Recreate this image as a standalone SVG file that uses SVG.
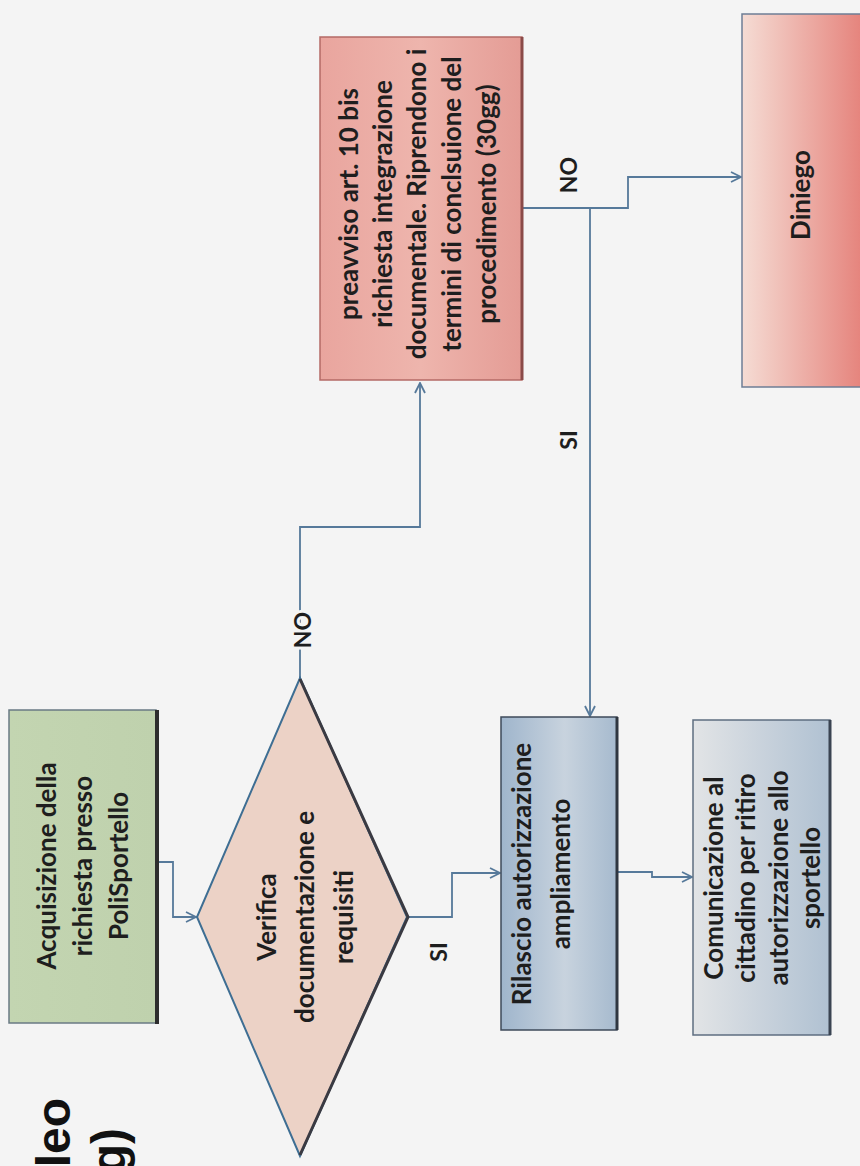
<svg xmlns="http://www.w3.org/2000/svg" width="860" height="1166" viewBox="0 0 860 1166">
<defs>
<style>
.t{font-family:Lato,"Liberation Sans",sans-serif;font-weight:700;font-size:26px;fill:#1e1e1e;text-anchor:middle;dominant-baseline:central}
.lb{font-family:Lato,"Liberation Sans",sans-serif;font-weight:700;font-size:23px;fill:#1e1e1e;text-anchor:middle;dominant-baseline:central;stroke:#f4f4f4;stroke-width:6px;paint-order:stroke}
.ti{font-family:"Liberation Sans",Arial,sans-serif;font-weight:700;font-size:48px;fill:#111;text-anchor:end}
.c{fill:none;stroke:#56799a;stroke-width:1.8;marker-end:url(#ah)}
</style>
<marker id="ah" viewBox="0 0 12 12" refX="11" refY="6" markerWidth="12" markerHeight="12" markerUnits="userSpaceOnUse" orient="auto">
<path d="M1,1 L11,6 L1,11" fill="none" stroke="#56799a" stroke-width="1.8"/>
</marker>
<linearGradient id="gGreen" x1="0" y1="0" x2="1" y2="0">
<stop offset="0" stop-color="#c3d5b1"/><stop offset="1" stop-color="#bfd1ad"/>
</linearGradient>
<linearGradient id="gPre" x1="0" y1="0" x2="1" y2="0">
<stop offset="0" stop-color="#e9a59e"/><stop offset="0.5" stop-color="#eeb5ad"/><stop offset="1" stop-color="#e49c95"/>
</linearGradient>
<linearGradient id="gDin" x1="0" y1="0" x2="1" y2="0">
<stop offset="0" stop-color="#f5dcd4"/><stop offset="1" stop-color="#e47c75"/>
</linearGradient>
<linearGradient id="gRil" x1="0" y1="0" x2="1" y2="0">
<stop offset="0" stop-color="#9fb5cc"/><stop offset="0.55" stop-color="#c8d3de"/><stop offset="1" stop-color="#a6bace"/>
</linearGradient>
<linearGradient id="gCom" x1="0" y1="0" x2="1" y2="0">
<stop offset="0" stop-color="#e2e4e6"/><stop offset="1" stop-color="#b0c1d2"/>
</linearGradient>
</defs>
<rect x="0" y="0" width="860" height="1166" fill="#f4f4f4"/>

<g id="title">
<text class="ti" transform="translate(70,1098) rotate(-90)">leo</text>
<text class="ti" transform="translate(125,1128) rotate(-90)">g)</text>
</g>

<g id="connectors">
<path class="c" d="M158 862 H173 V917 H196"/>
<path class="c" d="M300 678 V527 H420 V383"/>
<path class="c" d="M522 208 H628 V177 H741"/>
<path class="c" d="M590 208 V716"/>
<path class="c" d="M407 917 H452 V873 H500"/>
<path class="c" d="M617 872 H652 V877 H692"/>
</g>

<g id="labels">
<text class="lb" transform="translate(302,630) rotate(-90)">NO</text>
<text class="lb" transform="translate(568,175) rotate(-90)">NO</text>
<text class="lb" transform="translate(568,440) rotate(-90)">SI</text>
<text class="lb" transform="translate(438,952) rotate(-90)">SI</text>
</g>

<g id="acquisizione">
<rect x="9" y="710" width="147" height="313" fill="url(#gGreen)" stroke="#6a7a84" stroke-width="1.5"/>
<line x1="157" y1="710" x2="157" y2="1024" stroke="#2d2d2d" stroke-width="4"/>
<text class="t" transform="translate(46,866) rotate(-90)">Acquisizione della</text>
<text class="t" transform="translate(82,866) rotate(-90)">richiesta presso</text>
<text class="t" transform="translate(118,866) rotate(-90)">PoliSportello</text>
</g>

<g id="verifica">
<polygon points="300,678 407,917 300,1156 197,917" fill="#ecd2c6" stroke="#3e6e93" stroke-width="2"/>
<polyline points="300,679 408,917 300,1155" fill="none" stroke="#3a3a42" stroke-width="3"/>
<text class="t" transform="translate(266,917) rotate(-90)">Verifica</text>
<text class="t" transform="translate(304,917) rotate(-90)">documentazione e</text>
<text class="t" transform="translate(343,917) rotate(-90)">requisiti</text>
</g>

<g id="preavviso">
<rect x="320" y="37" width="202" height="343" fill="url(#gPre)" stroke="#b46a66" stroke-width="1.5"/>
<line x1="522" y1="37" x2="522" y2="380" stroke="#8a4a48" stroke-width="3"/>
<text class="t" transform="translate(348,204) rotate(-90)">preavviso art. 10 bis</text>
<text class="t" transform="translate(382,204) rotate(-90)">richiesta integrazione</text>
<text class="t" transform="translate(416,204) rotate(-90)">documentale. Riprendono i</text>
<text class="t" transform="translate(451,204) rotate(-90)">termini di conclsuione del</text>
<text class="t" transform="translate(486,204) rotate(-90)">procedimento (30gg)</text>
</g>

<g id="diniego">
<rect x="742" y="14" width="130" height="373" fill="url(#gDin)" stroke="#6d7d95" stroke-width="1.5"/>
<text class="t" transform="translate(800,195) rotate(-90)">Diniego</text>
</g>

<g id="rilascio">
<rect x="501" y="717" width="116" height="313" fill="url(#gRil)" stroke="#3e4a5a" stroke-width="1.5"/>
<line x1="617" y1="717" x2="617" y2="1030" stroke="#2f3640" stroke-width="3"/>
<text class="t" transform="translate(521,874) rotate(-90)">Rilascio autorizzazione</text>
<text class="t" transform="translate(560,874) rotate(-90)">ampliamento</text>
</g>

<g id="comunicazione">
<rect x="693" y="720" width="137" height="315" fill="url(#gCom)" stroke="#5e6d80" stroke-width="1.5"/>
<line x1="830" y1="720" x2="830" y2="1035" stroke="#3a4452" stroke-width="3"/>
<text class="t" transform="translate(713,878) rotate(-90)">Comunicazione al</text>
<text class="t" transform="translate(745,878) rotate(-90)">cittadino per ritiro</text>
<text class="t" transform="translate(778,878) rotate(-90)">autorizzazione allo</text>
<text class="t" transform="translate(810,878) rotate(-90)">sportello</text>
</g>
</svg>
